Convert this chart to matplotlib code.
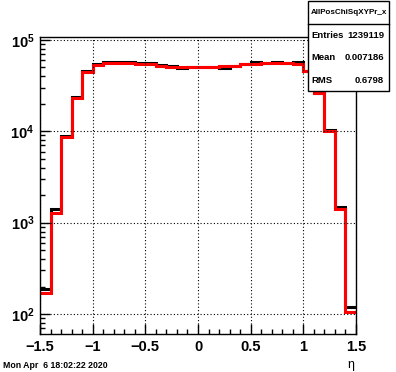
import numpy as np
import matplotlib
matplotlib.use("Agg")
import matplotlib.pyplot as plt
from matplotlib.ticker import MultipleLocator, LogLocator, FixedLocator

plt.rcParams['font.family'] = ['Liberation Sans', 'DejaVu Sans']
plt.rcParams['mathtext.fontset'] = 'custom'
plt.rcParams['mathtext.rm'] = 'Liberation Sans:bold'
plt.rcParams['mathtext.bf'] = 'Liberation Sans:bold'

# 30 bins of eta from -1.5 to 1.5
edges = np.round(np.linspace(-1.5, 1.5, 31), 2)

counts_black = [186, 1400, 8950, 23800, 45400, 54600, 57800, 57000, 57000, 55600,
                55600, 52600, 51200, 49000, 51000, 51000, 51000, 49700, 52300, 54600,
                57000, 56400, 57800, 55600, 57000, 45800, 26500, 10400, 1470, 120]
counts_red = [170, 1265, 8730, 23000, 44300, 53700, 56400, 56400, 56400, 55000,
              55000, 52300, 51000, 51000, 51000, 51000, 51000, 52300, 52300, 54600,
              54600, 56400, 56400, 55600, 54200, 45800, 26500, 10000, 1400, 105]

hist_name = "AllPosChiSqXYPr_x"
stats = [("Entries", "1239119"), ("Mean", "0.007186"), ("RMS", "0.6798")]
date_text = "Mon Apr  6 18:02:22 2020"

fig = plt.figure(figsize=(3.96, 3.72), dpi=100)
ax = fig.add_axes([0.101, 0.102, 0.798, 0.798])

ax.stairs(counts_black, edges, color='black', linewidth=2.2, baseline=None)
ax.stairs(counts_red, edges, color='red', linewidth=2.2, baseline=None)

ax.set_yscale('log')
ax.set_xlim(-1.5, 1.5)
ax.set_ylim(60.4, 1.07e5)

ax.xaxis.set_major_locator(MultipleLocator(0.5))
ax.xaxis.set_minor_locator(MultipleLocator(0.1))
ax.yaxis.set_major_locator(FixedLocator([1e2, 1e3, 1e4, 1e5]))
ax.yaxis.set_minor_locator(LogLocator(base=10, subs=np.arange(2, 10)))
ax.yaxis.set_minor_formatter(plt.NullFormatter())

xt = [-1.5, -1, -0.5, 0, 0.5, 1, 1.5]
ax.set_xticks(xt)
ax.set_xticklabels(['\u22121.5', '\u22121', '\u22120.5', '0', '0.5', '1', '1.5'],
                   fontweight='bold', fontsize=10.5)
ax.set_yticks([1e2, 1e3, 1e4, 1e5])
ax.set_yticklabels([r'$\mathrm{10^{2}}$', r'$\mathrm{10^{3}}$',
                    r'$\mathrm{10^{4}}$', r'$\mathrm{10^{5}}$'], fontsize=10.5)

ax.tick_params(which='both', direction='in', top=False, right=False)
ax.tick_params(which='major', length=7, width=1, pad=4)
ax.tick_params(which='minor', length=3.5, width=1)

ax.grid(True, which='major', color='black', linestyle=(0, (1, 2)), linewidth=0.8)
for s in ax.spines.values():
    s.set_linewidth(1)

ax.set_xlabel('\u03b7', fontsize=9)
ax.xaxis.set_label_coords(0.985, -0.085)

# stats box
bx0, bx1 = 308 / 396, 389 / 396
by1, by0 = 1 - 1 / 372, 1 - 90.7 / 372
fig.patches.append(plt.Rectangle((bx0, by0), bx1 - bx0, by1 - by0, transform=fig.transFigure,
                                 facecolor='white', edgecolor='black', linewidth=1, zorder=5))
fig.lines.append(plt.Line2D([bx0, bx1], [1 - 24 / 372] * 2, transform=fig.transFigure,
                            color='black', linewidth=1, zorder=6))
fig.text((bx0 + bx1) / 2, 1 - 12.5 / 372, hist_name, ha='center', va='center',
         fontsize=5.8, fontweight='bold', zorder=7)
for i, (k, v) in enumerate(stats):
    y = 1 - (35.7 + i * 22.3) / 372
    fig.text(311 / 396, y, k, ha='left', va='center', fontsize=6.8, fontweight='bold', zorder=7)
    fig.text(384 / 396, y, v, ha='right', va='center', fontsize=6.8, fontweight='bold', zorder=7)

fig.text(3 / 396, 6 / 372, date_text, ha='left', va='center', fontsize=6.3, fontweight='bold')

fig.savefig('out.png', dpi=100)
